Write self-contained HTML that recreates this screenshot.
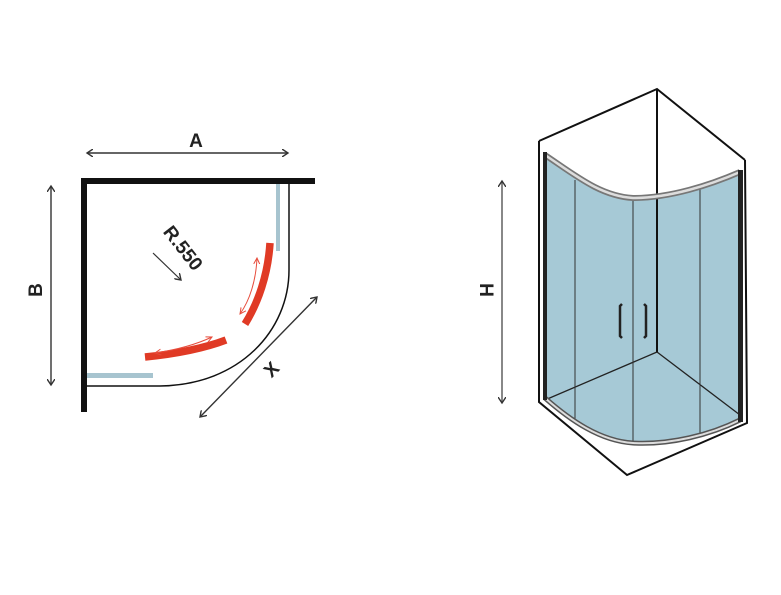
<!DOCTYPE html>
<html><head><style>html,body{margin:0;padding:0;background:#fff;}svg{display:block}</style></head>
<body>
<svg width="781" height="595" viewBox="0 0 781 595" xmlns="http://www.w3.org/2000/svg" font-family="Liberation Sans, sans-serif">
<defs>
<marker id="ah" markerWidth="8" markerHeight="8" refX="6" refY="4" orient="auto-start-reverse" markerUnits="userSpaceOnUse"><path d="M0,0 L6,4 L0,8" fill="none" stroke="#333" stroke-width="1.4"/></marker>
<marker id="rh" markerWidth="8" markerHeight="8" refX="6" refY="4" orient="auto-start-reverse" markerUnits="userSpaceOnUse"><path d="M0,1 L6,4 L0,7" fill="none" stroke="#e74c3c" stroke-width="1"/></marker>
</defs>
<!-- left plan -->
<line x1="87" y1="153" x2="288" y2="153" stroke="#333" stroke-width="1.4" marker-start="url(#ah)" marker-end="url(#ah)"/>
<text x="196" y="147" font-size="19" font-weight="bold" text-anchor="middle" fill="#222">A</text>
<line x1="51" y1="186" x2="51" y2="385" stroke="#333" stroke-width="1.4" marker-start="url(#ah)" marker-end="url(#ah)"/>
<text x="0" y="0" font-size="19" font-weight="bold" text-anchor="middle" fill="#222" transform="translate(42,290) rotate(-90)">B</text>
<rect x="81" y="178" width="234" height="6" fill="#111"/>
<rect x="81" y="178" width="6" height="234" fill="#111"/>
<rect x="276" y="184" width="4" height="67" fill="#a7c4cf"/>
<rect x="87" y="373" width="66" height="5" fill="#a7c4cf"/>
<path d="M289,184 L289,270 C289,330 240,385 160,386 L86,386" fill="none" stroke="#111" stroke-width="1.5"/>
<path d="M270,243 C268,275 258,303 245,324" fill="none" stroke="#e03a25" stroke-width="7.5"/>
<path d="M145,357 C175,354 205,348 226,340" fill="none" stroke="#e03a25" stroke-width="7.5"/>
<path d="M257,258 C256,280 250,300 240,314" fill="none" stroke="#e74c3c" stroke-width="1" marker-start="url(#rh)" marker-end="url(#rh)"/>
<path d="M155,353 C175,350 195,345 212,337" fill="none" stroke="#e74c3c" stroke-width="1" marker-start="url(#rh)" marker-end="url(#rh)"/>
<line x1="153" y1="253" x2="181" y2="280" stroke="#333" stroke-width="1.2" marker-end="url(#ah)"/>
<text x="0" y="0" font-size="19" font-weight="bold" fill="#222" text-anchor="middle" transform="translate(178,252) rotate(52)">R.550</text>
<line x1="317" y1="297" x2="200" y2="417" stroke="#333" stroke-width="1.4" marker-start="url(#ah)" marker-end="url(#ah)"/>
<text x="0" y="0" font-size="19" font-weight="bold" fill="#222" text-anchor="middle" transform="translate(276,374) rotate(-45)">X</text>
<!-- right 3D -->
<line x1="502" y1="181" x2="502" y2="403" stroke="#555" stroke-width="1.4" marker-start="url(#ah)" marker-end="url(#ah)"/>
<text x="0" y="0" font-size="19" font-weight="bold" fill="#222" text-anchor="middle" transform="translate(480,290) rotate(90)">H</text>
<path d="M545,155 C575,175 600,196 633,198 C670,198 710,185 740,172 L740,420 C710,435 670,445 633,443 C600,441 570,420 545,398 Z" fill="#a6c9d6"/>
<path d="M539,141 L657,89 L745,160 M539,141 L539,402 L627,475 L747,423 L745,160 M657,89 L657,352" fill="none" stroke="#111" stroke-width="2"/>
<line x1="657" y1="352" x2="545" y2="400" stroke="#222" stroke-width="1.3"/>
<line x1="657" y1="352" x2="740" y2="415" stroke="#222" stroke-width="1.3"/>
<line x1="575" y1="180" x2="575" y2="422" stroke="#333" stroke-width="1"/>
<line x1="633" y1="198" x2="633" y2="443" stroke="#333" stroke-width="1"/>
<line x1="700" y1="188" x2="700" y2="434" stroke="#333" stroke-width="1"/>
<path d="M545,155 C575,175 600,196 633,198 C670,198 710,185 740,172" fill="none" stroke="#777" stroke-width="6"/>
<path d="M545,155 C575,175 600,196 633,198 C670,198 710,185 740,172" fill="none" stroke="#ddd" stroke-width="2.5"/>
<path d="M545,398 C570,420 600,441 633,443 C670,445 710,435 740,420" fill="none" stroke="#555" stroke-width="5"/>
<path d="M545,398 C570,420 600,441 633,443 C670,445 710,435 740,420" fill="none" stroke="#ddd" stroke-width="2"/>
<rect x="543" y="152" width="4" height="248" fill="#222"/>
<rect x="738" y="170" width="5" height="252" fill="#222"/>
<path d="M622,304 L620,306 L620,336 L622,338" fill="none" stroke="#222" stroke-width="2.5"/>
<path d="M644,304 L646,306 L646,336 L644,338" fill="none" stroke="#222" stroke-width="2.5"/>
</svg>
</body></html>
